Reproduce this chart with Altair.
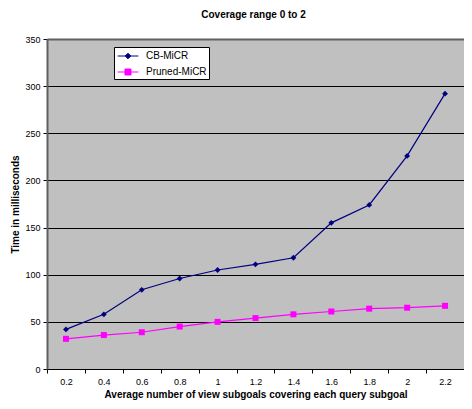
import altair as alt
import pandas as pd

x_labels = ["0.2", "0.4", "0.6", "0.8", "1", "1.2", "1.4", "1.6", "1.8", "2", "2.2"]
cb_micr = [42, 58, 84, 96, 105, 111, 118, 155, 174, 226, 292]
pruned_micr = [32, 36, 39, 45, 50, 54, 58, 61, 64, 65, 67]
series_names = ["CB-MiCR", "Pruned-MiCR"]
series_colors = ["#000080", "#FF00FF"]
y_ticks = [0, 50, 100, 150, 200, 250, 300, 350]

rows = []
for i, lab in enumerate(x_labels):
    rows.append({"x": lab, "series": series_names[0], "value": cb_micr[i]})
    rows.append({"x": lab, "series": series_names[1], "value": pruned_micr[i]})
df = pd.DataFrame(rows)

FONT = "Liberation Sans"

x_enc = alt.X(
    "x:O",
    sort=x_labels,
    bandPosition=0.5,
    scale=alt.Scale(type="band", domain=x_labels, paddingInner=0, paddingOuter=0),
    axis=alt.Axis(
        title="Average number of view subgoals covering each query subgoal",
        labelAngle=0,
        tickBand="extent",
        tickColor="black",
        tickSize=4,
        domainColor="black",
        domainWidth=1,
        labelFontSize=9,
        labelPadding=4,
        labelColor="black",
        titleFontSize=10,
        titleFontWeight="bold",
        titlePadding=3,
        titleColor="black",
        grid=False,
    ),
)
y_enc = alt.Y(
    "value:Q",
    scale=alt.Scale(domain=[0, 350], nice=False),
    axis=alt.Axis(
        title="Time in milliseconds",
        values=y_ticks,
        tickColor="black",
        tickSize=4,
        domainColor="#606060",
        domainWidth=2,
        labelFontSize=9,
        labelPadding=3,
        labelColor="black",
        titleFontSize=10,
        titleFontWeight="bold",
        titlePadding=4,
        titleColor="black",
        grid=True,
        gridColor=alt.condition("datum.value == 350", alt.value("#606060"), alt.value("black")),
        gridWidth=alt.condition("datum.value == 350", alt.value(2), alt.value(1)),
        gridOpacity=1,
    ),
)

color_scale = alt.Scale(domain=series_names, range=series_colors)

base = alt.Chart(df)

lines = base.mark_line(strokeWidth=1.2).encode(
    x=x_enc, y=y_enc,
    color=alt.Color("series:N", scale=color_scale, legend=None),
)
pts_cb = base.transform_filter(alt.datum.series == series_names[0]).mark_point(
    filled=True, shape="diamond", size=34, opacity=1
).encode(x=x_enc, y=y_enc, color=alt.Color("series:N", scale=color_scale, legend=None))
pts_pr = base.transform_filter(alt.datum.series == series_names[1]).mark_point(
    filled=True, shape="square", size=36, opacity=1
).encode(x=x_enc, y=y_enc, color=alt.Color("series:N", scale=color_scale, legend=None))

path_cb = "M-1.6,0H1.6M0,-0.43L0.43,0L0,0.43L-0.43,0Z"
path_pr = "M-1.6,0H1.6M-0.46,-0.46H0.46V0.46H-0.46Z"

leg = alt.Legend(
    title=None,
    orient="none",
    legendX=67,
    legendY=8,
    fillColor="white",
    strokeColor="black",
    padding=2,
    symbolSize=169,
    symbolOffset=5,
    symbolStrokeWidth=1,
    labelOffset=11,
    labelFontSize=10,
    labelFont=FONT,
    labelColor="black",
    labelLimit=200,
    rowPadding=4,
)

carrier = base.transform_filter("false").mark_point(filled=True, opacity=1, strokeWidth=1).encode(
    x=x_enc, y=y_enc,
    fill=alt.Fill("series:N", scale=alt.Scale(domain=series_names, range=series_colors), legend=leg),
    stroke=alt.Stroke("series:N", scale=alt.Scale(domain=series_names, range=series_colors), legend=leg),
    shape=alt.Shape("series:N", scale=alt.Scale(domain=series_names, range=[path_cb, path_pr]), legend=leg),
)

chart = alt.layer(carrier, lines, pts_cb, pts_pr).properties(
    width=417,
    height=330,
    autosize=alt.AutoSizeParams(type="none"),
    padding={"left": 39, "top": 31, "right": 0, "bottom": 32},
    title=alt.TitleParams(
        "Coverage range 0 to 2",
        fontSize=10,
        font=FONT,
        fontWeight="bold",
        anchor="middle",
        frame="group",
        baseline="bottom",
        offset=5,
        dx=-2,
        color="black",
    ),
).configure(font=FONT).configure_view(fill="#C0C0C0", stroke="transparent")

chart.save("out.html", embed_options={"renderer": "svg", "actions": False})
